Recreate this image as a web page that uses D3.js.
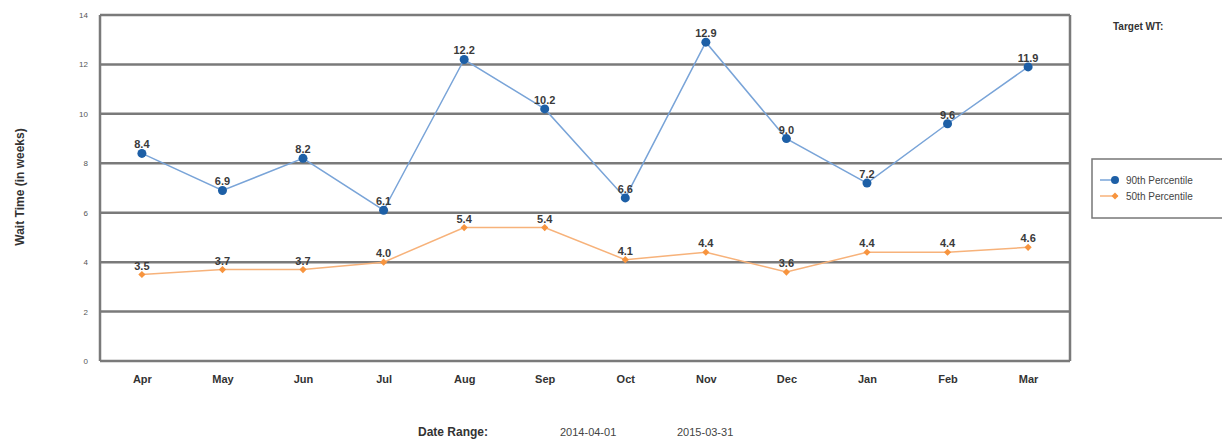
<!DOCTYPE html>
<html>
<head>
<meta charset="utf-8">
<script src="https://cdnjs.cloudflare.com/ajax/libs/d3/7.8.5/d3.min.js"></script>
<style>
  body { margin: 0; background: #fff; }
  svg { font-family: "Liberation Sans", Arial, sans-serif; }
</style>
</head>
<body>
<svg width="1222" height="443"></svg>
<script>
var months = ["Apr", "May", "Jun", "Jul", "Aug", "Sep", "Oct", "Nov", "Dec", "Jan", "Feb", "Mar"];
var p90 = [8.4, 6.9, 8.2, 6.1, 12.2, 10.2, 6.6, 12.9, 9.0, 7.2, 9.6, 11.9];
var p50 = [3.5, 3.7, 3.7, 4.0, 5.4, 5.4, 4.1, 4.4, 3.6, 4.4, 4.4, 4.6];
var yTicks = [0, 2, 4, 6, 8, 10, 12, 14];
var dateRange = ["2014-04-01", "2015-03-31"];

var svg = d3.select("svg");
var plotLeft = 100, plotRight = 1070, plotTop = 15, plotBottom = 361;

var x = d3.scalePoint().domain(months).range([plotLeft, plotRight]).padding(0.52);
var y = d3.scaleLinear().domain([0, 14]).range([plotBottom, plotTop]);

// gridlines
svg.append("g").selectAll("line")
    .data(yTicks)
    .enter().append("line")
    .attr("x1", plotLeft).attr("x2", plotRight)
    .attr("y1", function(d) { return y(d); })
    .attr("y2", function(d) { return y(d); })
    .style("stroke", "#7a7a7a")
    .style("stroke-width", 2.5);

// frame sides
svg.append("line").attr("x1", plotLeft).attr("x2", plotLeft).attr("y1", plotTop).attr("y2", plotBottom)
    .style("stroke", "#7a7a7a").style("stroke-width", 2.5);
svg.append("line").attr("x1", plotRight).attr("x2", plotRight).attr("y1", plotTop).attr("y2", plotBottom)
    .style("stroke", "#7a7a7a").style("stroke-width", 2.5);

// y tick labels
var yAxis = svg.append("g")
    .attr("transform", "translate(" + (plotLeft - 12) + ",0)")
    .call(d3.axisLeft(y).tickValues(yTicks).tickSize(0).tickPadding(0));
yAxis.select(".domain").remove();
yAxis.selectAll("text").style("font-size", "8px").style("fill", "#555");

// x tick labels
var xAxis = svg.append("g")
    .attr("transform", "translate(0," + (plotBottom + 14) + ")")
    .call(d3.axisBottom(x).tickSize(0).tickPadding(0));
xAxis.select(".domain").remove();
xAxis.selectAll("text").style("font-size", "11px").style("font-weight", "bold").style("fill", "#333");

// y label
svg.append("text")
    .attr("transform", "translate(24,187) rotate(-90)")
    .attr("text-anchor", "middle")
    .style("font-size", "12px").style("font-weight", "bold").style("fill", "#333")
    .text("Wait Time (in weeks)");

function drawSeries(vals, lineColor, dotColor, shape) {
    var line = d3.line()
        .x(function(d, i) { return x(months[i]); })
        .y(function(d) { return y(d); });
    svg.append("path").datum(vals)
        .attr("d", line)
        .style("fill", "none")
        .style("stroke", lineColor)
        .style("stroke-width", 1.5);
    var g = svg.append("g");
    if (shape == "circle") {
        g.selectAll("circle").data(vals).enter().append("circle")
            .attr("cx", function(d, i) { return x(months[i]); })
            .attr("cy", function(d) { return y(d); })
            .attr("r", 4.5)
            .style("fill", dotColor);
    } else {
        g.selectAll("path").data(vals).enter().append("path")
            .attr("d", d3.symbol().type(d3.symbolSquare).size(26))
            .attr("transform", function(d, i) { return "translate(" + x(months[i]) + "," + y(d) + ") rotate(45)"; })
            .style("fill", dotColor);
    }
    svg.append("g").selectAll("text").data(vals).enter().append("text")
        .attr("x", function(d, i) { return x(months[i]); })
        .attr("y", function(d) { return y(d) - 5; })
        .attr("text-anchor", "middle")
        .style("font-size", "11px").style("font-weight", "bold").style("fill", "#3a3a3a")
        .text(function(d) { return d.toFixed(1); });
}

drawSeries(p50, "#f7b27a", "#f7943e", "diamond");
drawSeries(p90, "#79a4d8", "#1d5fa6", "circle");

// target label
svg.append("text")
    .attr("x", 1113).attr("y", 30)
    .style("font-size", "10px").style("font-weight", "bold").style("fill", "#333")
    .text("Target WT:");

// legend
var legend = svg.append("g");
legend.append("rect")
    .attr("x", 1092).attr("y", 159).attr("width", 140).attr("height", 59)
    .style("fill", "#fff").style("stroke", "#777").style("stroke-width", 1.5);
var legendItems = [
    { name: "90th Percentile", line: "#79a4d8", dot: "#1d5fa6", shape: "circle" },
    { name: "50th Percentile", line: "#f7b27a", dot: "#f7943e", shape: "diamond" }
];
legendItems.forEach(function(it, i) {
    var ly = 180 + i * 16;
    legend.append("line").attr("x1", 1100).attr("x2", 1118).attr("y1", ly).attr("y2", ly)
        .style("stroke", it.line).style("stroke-width", 1.5);
    if (it.shape == "circle") {
        legend.append("circle").attr("cx", 1115).attr("cy", ly).attr("r", 4).style("fill", it.dot);
    } else {
        legend.append("path").attr("d", d3.symbol().type(d3.symbolSquare).size(24))
            .attr("transform", "translate(1115," + ly + ") rotate(45)").style("fill", it.dot);
    }
    legend.append("text").attr("x", 1126).attr("y", ly + 3.5)
        .style("font-size", "10px").style("fill", "#444")
        .text(it.name);
});

// date range
svg.append("text").attr("x", 418).attr("y", 436)
    .style("font-size", "12px").style("font-weight", "bold").style("fill", "#333")
    .text("Date Range:");
svg.append("text").attr("x", 560).attr("y", 436)
    .style("font-size", "11px").style("fill", "#444")
    .text(dateRange[0]);
svg.append("text").attr("x", 677).attr("y", 436)
    .style("font-size", "11px").style("fill", "#444")
    .text(dateRange[1]);
</script>
</body>
</html>
